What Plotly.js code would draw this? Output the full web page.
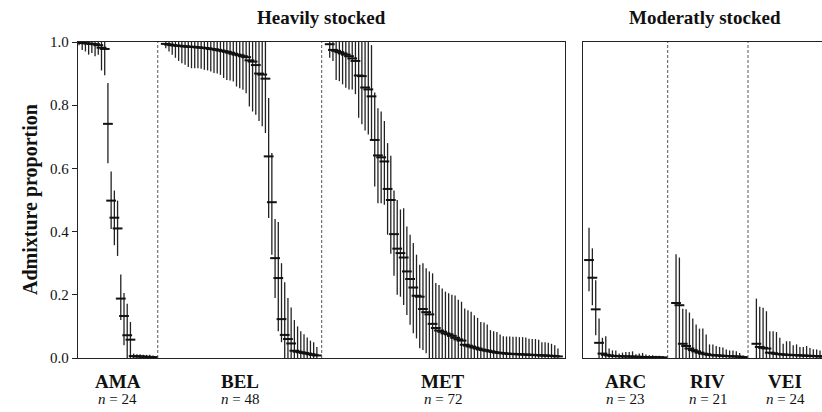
<!DOCTYPE html>
<html>
<head>
<meta charset="utf-8">
<script src="https://cdn.plot.ly/plotly-3.0.1.min.js"></script>
<style>html,body{margin:0;padding:0;background:#fff}#chart{width:822px;height:412px}</style>
</head>
<body>
<div id="chart"></div>
<script>
// ---------- DATA ----------
const AMA_est = [0.998,0.997,0.996,0.995,0.994,0.993,0.99,0.982,0.978,0.741,0.498,0.444,0.41,0.188,0.133,0.072,0.058,0.006,0.005,0.005,0.004,0.004,0.003,0.003];
const AMA_lo  = [0.99,0.975,0.97,0.96,0.965,0.955,0.96,0.91,0.895,0.616,0.408,0.357,0.323,0.12,0.04,0,0,0,0,0,0,0,0,0];
const AMA_hi  = [1,1,1,1,1,1,1,1,1,0.87,0.59,0.53,0.498,0.264,0.206,0.172,0.114,0.014,0.012,0.012,0.01,0.01,0.01,0.008];

const BEL_est = [0.994,0.992,0.99,0.989,0.988,0.987,0.986,0.985,0.985,0.984,0.983,0.982,0.981,0.98,0.978,0.977,0.975,0.973,0.971,0.969,0.966,0.963,0.96,0.958,0.955,0.952,0.942,0.938,0.927,0.9,0.897,0.884,0.638,0.493,0.316,0.253,0.123,0.073,0.06,0.046,0.023,0.02,0.018,0.016,0.014,0.012,0.01,0.008];
const BEL_lo  = [0.98,0.97,0.96,0.95,0.94,0.933,0.928,0.921,0.917,0.917,0.917,0.915,0.912,0.91,0.907,0.902,0.9,0.896,0.886,0.88,0.878,0.875,0.859,0.854,0.849,0.838,0.796,0.78,0.77,0.75,0.733,0.712,0.443,0.327,0.19,0.085,0.05,0,0,0,0,0,0,0,0,0,0,0];
const BEL_hi  = [1,1,1,1,1,1,1,1,1,1,1,1,1,1,1,1,1,1,1,1,1,1,1,1,1,1,1,1,1,1,1,1,0.823,0.649,0.44,0.43,0.3,0.24,0.19,0.16,0.12,0.1,0.085,0.075,0.065,0.055,0.05,0.035];

const MET_est = [0.993,0.975,0.972,0.968,0.964,0.96,0.955,0.948,0.94,0.894,0.892,0.856,0.85,0.828,0.69,0.641,0.635,0.622,0.535,0.5,0.392,0.346,0.332,0.318,0.274,0.25,0.223,0.197,0.194,0.155,0.145,0.138,0.108,0.095,0.087,0.083,0.078,0.075,0.07,0.064,0.059,0.055,0.042,0.039,0.036,0.033,0.03,0.027,0.025,0.023,0.021,0.019,0.017,0.016,0.015,0.014,0.013,0.013,0.012,0.012,0.011,0.011,0.01,0.01,0.009,0.009,0.008,0.008,0.007,0.007,0.006,0.005];
const MET_lo  = [0.95,0.94,0.88,0.876,0.866,0.855,0.85,0.85,0.835,0.76,0.74,0.72,0.707,0.69,0.543,0.49,0.49,0.485,0.39,0.33,0.26,0.2,0.194,0.168,0.136,0.105,0.078,0.062,0.031,0.025,0.015,0,0,0,0,0,0,0,0,0,0,0,0,0,0,0,0,0,0,0,0,0,0,0,0,0,0,0,0,0,0,0,0,0,0,0,0,0,0,0,0,0];
const MET_hi  = [1,1,1,1,1,1,1,1,1,1,1,1,1,0.99,0.84,0.79,0.78,0.75,0.68,0.64,0.53,0.5,0.47,0.474,0.416,0.39,0.364,0.327,0.295,0.3,0.284,0.274,0.268,0.237,0.231,0.22,0.21,0.205,0.2,0.198,0.184,0.178,0.157,0.151,0.146,0.135,0.127,0.114,0.112,0.106,0.088,0.085,0.082,0.074,0.069,0.068,0.068,0.067,0.067,0.066,0.066,0.065,0.061,0.06,0.06,0.058,0.05,0.05,0.048,0.045,0.04,0.03];

const ARC_est = [0.31,0.254,0.154,0.048,0.014,0.01,0.008,0.007,0.006,0.006,0.005,0.005,0.005,0.004,0.004,0.004,0.003,0.003,0.003,0.003,0.002,0.002,0.002];
const ARC_lo  = [0.211,0.167,0.072,0,0,0,0,0,0,0,0,0,0,0,0,0,0,0,0,0,0,0,0];
const ARC_hi  = [0.412,0.347,0.246,0.125,0.064,0.069,0.03,0.024,0.024,0.014,0.017,0.019,0.019,0.021,0.012,0.014,0.016,0.011,0.009,0.009,0.007,0.007,0.006];

const RIV_est = [0.174,0.167,0.045,0.038,0.03,0.025,0.021,0.017,0.014,0.012,0.01,0.009,0.008,0.008,0.007,0.006,0.006,0.005,0.005,0.004,0.003];
const RIV_lo  = [0,0,0,0,0,0,0,0,0,0,0,0,0,0,0,0,0,0,0,0,0];
const RIV_hi  = [0.328,0.318,0.156,0.154,0.144,0.125,0.106,0.093,0.093,0.074,0.043,0.043,0.038,0.035,0.033,0.027,0.024,0.024,0.021,0.016,0.008];

const VEI_est = [0.045,0.035,0.032,0.03,0.017,0.015,0.013,0.012,0.011,0.01,0.01,0.009,0.009,0.008,0.008,0.007,0.007,0.006,0.006,0.005,0.005,0.004,0.004,0.003];
const VEI_lo  = [0,0,0,0,0,0,0,0,0,0,0,0,0,0,0,0,0,0,0,0,0,0,0,0];
const VEI_hi  = [0.188,0.162,0.159,0.148,0.085,0.085,0.082,0.064,0.045,0.053,0.053,0.04,0.043,0.035,0.035,0.038,0.032,0.028,0.027,0.024,0.017,0.019,0.014,0.011];

const leftGroups  = ['AMA','BEL','MET'];
const rightGroups = ['ARC','RIV','VEI'];
const groupSizes  = {AMA:24, BEL:48, MET:72, ARC:23, RIV:21, VEI:24};
const panelTitles = ['Heavily stocked','Moderatly stocked'];
const yTicks = [0,0.2,0.4,0.6,0.8,1.0];

const DATA = {
  AMA:[AMA_est,AMA_lo,AMA_hi], BEL:[BEL_est,BEL_lo,BEL_hi], MET:[MET_est,MET_lo,MET_hi],
  ARC:[ARC_est,ARC_lo,ARC_hi], RIV:[RIV_est,RIV_lo,RIV_hi], VEI:[VEI_est,VEI_lo,VEI_hi]
};

// ---------- BUILD ----------
const GAP = 3;
const SERIF = 'Liberation Serif, Times New Roman, serif';
const traces = [], shapes = [], annotations = [];
const X1RANGE = [0.69, 152.2], X2RANGE = [-0.79, 70.6];

function buildPanel(groups, xa, ya, range) {
  let start = 1;
  const bounds = [range[0]];
  groups.forEach((g, gi) => {
    const [est, lo, hi] = DATA[g];
    const xs = est.map((_, i) => start + i);
    traces.push({
      type: 'scatter', mode: 'markers', x: xs, y: est,
      xaxis: xa, yaxis: ya, cliponaxis: true, showlegend: false, hoverinfo: 'skip',
      marker: {symbol: 'line-ew', size: 7, color: '#111', line: {width: 2, color: '#111'}},
      error_y: {type: 'data', symmetric: false,
        array: hi.map((h, i) => Math.max(0, h - est[i])),
        arrayminus: lo.map((l, i) => Math.max(0, est[i] - l)),
        width: 0, thickness: 1.3, color: '#222'}
    });
    const end = start + est.length - 1;
    if (gi < groups.length - 1) {
      const sep = end + GAP / 2;
      bounds.push(sep);
      shapes.push({type: 'line', xref: xa, yref: 'paper', x0: sep, x1: sep, y0: 0, y1: 1,
        line: {color: '#444', width: 0.9, dash: '3px,2px'}});
    }
    start = end + 1 + GAP;
  });
  bounds.push(range[1]);
  groups.forEach((g, gi) => {
    const cx = (bounds[gi] + bounds[gi + 1]) / 2;
    annotations.push({xref: xa, yref: 'paper', x: cx, y: -0.075, yanchor: 'middle',
      text: '<b>' + g + '</b>', showarrow: false, font: {family: SERIF, size: 19, color: '#111'}});
    annotations.push({xref: xa, yref: 'paper', x: cx, y: -0.13, yanchor: 'middle',
      text: '<i>n</i> = ' + groupSizes[g], showarrow: false, font: {family: SERIF, size: 15, color: '#111'}});
  });
}
buildPanel(leftGroups, 'x', 'y', X1RANGE);
buildPanel(rightGroups, 'x2', 'y2', X2RANGE);

// panel titles
annotations.push({xref: 'x domain', yref: 'paper', x: 0.5, y: 1.076, yanchor: 'middle',
  text: '<b>' + panelTitles[0] + '</b>', showarrow: false, font: {family: SERIF, size: 19, color: '#111'}});
annotations.push({xref: 'x2 domain', yref: 'paper', x: 0.51, y: 1.076, yanchor: 'middle',
  text: '<b>' + panelTitles[1] + '</b>', showarrow: false, font: {family: SERIF, size: 19, color: '#111'}});
// y title
annotations.push({xref: 'paper', yref: 'paper', x: -0.0645, y: 0.5, xanchor: 'center', yanchor: 'middle',
  textangle: -90, text: '<b>Admixture proportion</b>', showarrow: false, font: {family: SERIF, size: 20, color: '#111'}});

const axBase = {showgrid: false, zeroline: false, showline: true, mirror: true, linecolor: '#222', linewidth: 1.2};
const layout = {
  width: 822, height: 412, margin: {l: 78, r: 0, t: 42, b: 54},
  paper_bgcolor: '#fff', plot_bgcolor: '#fff',
  xaxis: Object.assign({}, axBase, {domain: [0, 0.6546], range: X1RANGE, showticklabels: false, ticks: ''}),
  yaxis: Object.assign({}, axBase, {domain: [0, 1], range: [0, 1], ticks: 'outside', ticklen: 5, tickwidth: 1,
    tickcolor: '#222', tickvals: yTicks, ticktext: yTicks.map(v => v.toFixed(1)),
    tickfont: {family: SERIF, size: 15, color: '#111'}}),
  xaxis2: Object.assign({}, axBase, {domain: [0.6788, 1], range: X2RANGE, anchor: 'y2', showticklabels: false, ticks: ''}),
  yaxis2: Object.assign({}, axBase, {domain: [0, 1], range: [0, 1], anchor: 'x2', showticklabels: false, ticks: ''}),
  shapes: shapes, annotations: annotations
};
Plotly.newPlot('chart', traces, layout, {displayModeBar: false, staticPlot: true});
</script>
</body>
</html>
